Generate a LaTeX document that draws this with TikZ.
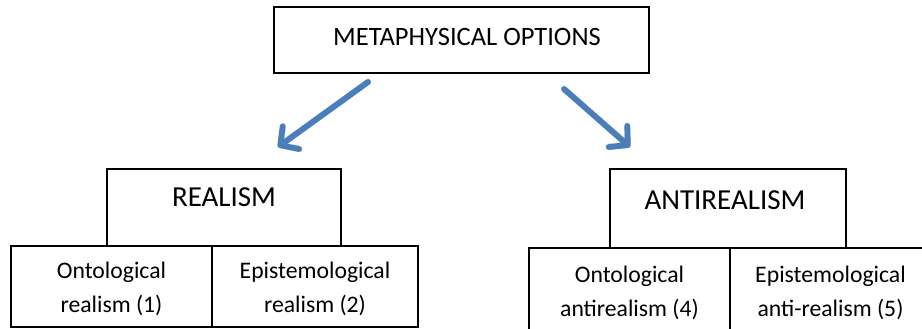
\documentclass[tikz,border=0pt]{standalone}
\usepackage{fontspec}
\setmainfont{Carlito}
\usetikzlibrary{arrows.meta}
\definecolor{arrowblue}{RGB}{74,126,187}
\tikzset{
  box/.style={draw=black, line width=1.3pt, fill=white, inner sep=0pt},
  bigtext/.style={inner sep=0pt, anchor=base, font=\fontsize{29}{34}\selectfont},
  toptext/.style={inner sep=0pt, anchor=base, font=\fontsize{26.5}{32}\selectfont},
  celltext/.style={inner sep=0pt, anchor=north, align=center, font=\fontsize{23.7}{34}\selectfont},
  arrowhead/.style={-{Straight Barb[length=13pt,width=28pt,line cap=round,line join=round]}},
  bluearrow/.style={draw=arrowblue, line width=5.8pt, line cap=round, arrowhead},
  arrowshadow/.style={draw=black, opacity=0.12, line width=6.5pt, line cap=round, arrowhead}
}
\begin{document}
\begin{tikzpicture}[x=1pt,y=-1pt]
  \useasboundingbox (0,0) rectangle (922,329);

  % top box
  \node[box, minimum width=375pt, minimum height=66pt] (top) at (461.5,40) {};
  \node[toptext] (toplbl) at (467,46) {METAPHYSICAL OPTIONS};

  % realism branch
  \node[box, minimum width=234pt, minimum height=77pt] (real) at (224,207.5) {};
  \node[bigtext] (reallbl) at (224,206.5) {REALISM};
  \node[box, minimum width=201pt, minimum height=81pt] (ontr) at (111.5,286.5) {};
  \node[box, minimum width=206pt, minimum height=81pt] (epir) at (315,286.5) {};
  \node[celltext] (ontrlbl) at (111.5,262) {Ontological\\realism (1)};
  \node[celltext] (epirlbl) at (315,262) {Epistemological\\realism (2)};

  % antirealism branch
  \node[box, minimum width=236pt, minimum height=79pt] (anti) at (728,208.5) {};
  \node[bigtext] (antilbl) at (725,209) {ANTIREALISM};
  \node[box, minimum width=201pt, minimum height=100pt] (onta) at (629.5,298) {};
  \node[box, minimum width=201pt, minimum height=100pt] (epia) at (830.5,298) {};
  \node[celltext] (ontalbl) at (629.5,266) {Ontological\\antirealism (4)};
  \node[celltext] (epialbl) at (830.5,266) {Epistemological\\anti-realism (5)};

  % arrows from the top box down to the two branches
  \coordinate (lfrom) at (368,82);
  \coordinate (lto) at (278,147);
  \coordinate (rfrom) at (564,89);
  \coordinate (rto) at (630,147);
  \begin{scope}[shift={(1.5pt,-2pt)}]
    \draw[arrowshadow] (lfrom) -- (lto);
    \draw[arrowshadow] (rfrom) -- (rto);
  \end{scope}
  \draw[bluearrow] (lfrom) -- (lto);
  \draw[bluearrow] (rfrom) -- (rto);
\end{tikzpicture}
\end{document}
